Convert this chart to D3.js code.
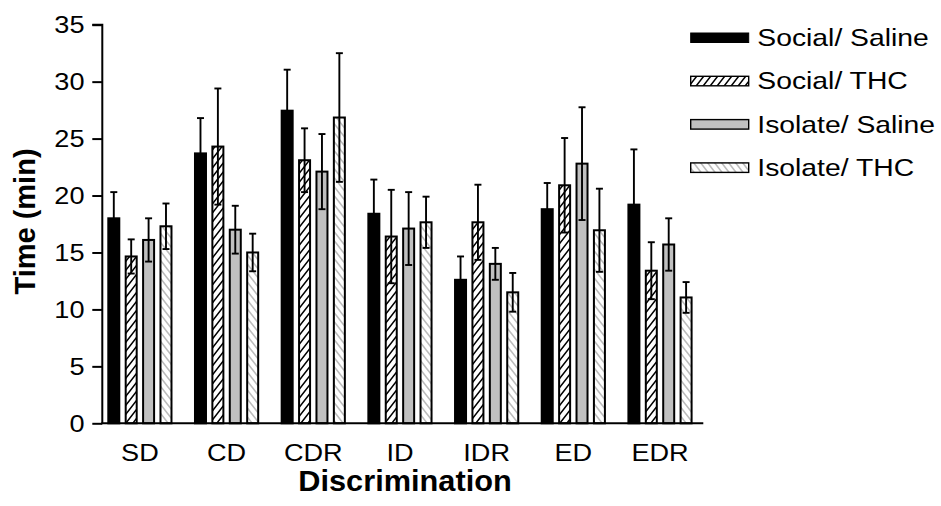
<!DOCTYPE html>
<html>
<head>
<meta charset="utf-8">
<script src="https://cdn.jsdelivr.net/npm/d3@7"></script>
<style>
  html, body { margin: 0; padding: 0; background: #fff; }
  svg { display: block; font-family: "Liberation Sans", Arial, sans-serif; }
</style>
</head>
<body>
<svg id="chart" width="941" height="506"></svg>
<script>
const categories = ["SD", "CD", "CDR", "ID", "IDR", "ED", "EDR"];
const seriesNames = ["Social/ Saline", "Social/ THC", "Isolate/ Saline", "Isolate/ THC"];
const socialSaline = [18.0, 23.7, 27.45, 18.4, 12.6, 18.8, 19.2];
const socialSalineErr = [2.3, 3.1, 3.6, 3.0, 2.05, 2.3, 4.85];
const socialTHC = [14.65, 24.3, 23.1, 16.4, 17.65, 20.9, 13.4];
const socialTHCErr = [1.5, 5.1, 2.8, 4.1, 3.3, 4.15, 2.5];
const isolateSaline = [16.1, 17.0, 22.1, 17.1, 14.0, 22.8, 15.7];
const isolateSalineErr = [1.9, 2.1, 3.3, 3.2, 1.4, 4.95, 2.3];
const isolateTHC = [17.3, 15.0, 26.85, 17.65, 11.5, 16.95, 11.05];
const isolateTHCErr = [2.0, 1.65, 5.65, 2.25, 1.7, 3.65, 1.35];
const yTicks = [0, 5, 10, 15, 20, 25, 30, 35];

const values = [socialSaline, socialTHC, isolateSaline, isolateTHC];
const errors = [socialSalineErr, socialTHCErr, isolateSalineErr, isolateTHCErr];
const fills = ["#000", "url(#hatchBlack)", "#c0c0c0", "url(#hatchGrey)"];

const svg = d3.select("#chart");

// patterns
const W = 7, H = 9;
const defs = svg.append("defs");
const p1 = defs.append("pattern").attr("id", "hatchBlack").attr("patternUnits", "userSpaceOnUse")
  .attr("width", W).attr("height", H);
p1.append("rect").attr("width", W).attr("height", H).attr("fill", "#fff");
p1.append("path")
  .attr("d", `M${-W},${2*H}L${2*W},${-H}M${-2*W},${2*H}L${W},${-H}M0,${2*H}L${3*W},${-H}`)
  .attr("stroke", "#000").attr("stroke-width", 1.5);
const p2 = defs.append("pattern").attr("id", "hatchGrey").attr("patternUnits", "userSpaceOnUse")
  .attr("width", W).attr("height", H);
p2.append("rect").attr("width", W).attr("height", H).attr("fill", "#fff");
p2.append("path")
  .attr("d", `M${-W},${-H}L${2*W},${2*H}M0,${-H}L${3*W},${2*H}M${-2*W},${-H}L${W},${2*H}`)
  .attr("stroke", "#bcbcbc").attr("stroke-width", 1.6);

const y = d3.scaleLinear().domain([0, 35]).range([423.3, 24.7]);
const x0 = d3.scaleBand().domain(categories).range([107.3, 692.6]).paddingInner(0.248).paddingOuter(0);
const x1 = d3.scaleBand().domain(d3.range(4)).range([0, x0.bandwidth()]).paddingInner(0.253).paddingOuter(0);

function sText(g, x, yy, txt, size, sx, anchor, weight) {
  return g.append("text")
    .attr("transform", `translate(${x},${yy}) scale(${sx},1)`)
    .attr("font-size", size).attr("text-anchor", anchor || "start")
    .attr("font-weight", weight || "normal").attr("fill", "#000")
    .text(txt);
}

// bars
const gBars = svg.append("g");
categories.forEach((c, ci) => {
  for (let s = 0; s < 4; s++) {
    const v = values[s][ci];
    const bx = x0(c) + x1(s);
    const bw = x1.bandwidth();
    gBars.append("rect")
      .attr("x", bx + 1).attr("y", y(v))
      .attr("width", bw - 2).attr("height", y(0) - y(v))
      .attr("fill", fills[s]).attr("stroke", "#000").attr("stroke-width", 2);
  }
});
// error bars
const gErr = svg.append("g").attr("stroke", "#000").attr("stroke-width", 1.9);
categories.forEach((c, ci) => {
  for (let s = 0; s < 4; s++) {
    const v = values[s][ci], e = errors[s][ci];
    const cx = x0(c) + x1(s) + x1.bandwidth() / 2;
    gErr.append("line").attr("x1", cx).attr("x2", cx).attr("y1", y(v + e)).attr("y2", y(v - e));
    gErr.append("line").attr("x1", cx - 3.5).attr("x2", cx + 3.5).attr("y1", y(v + e)).attr("y2", y(v + e));
    gErr.append("line").attr("x1", cx - 3.5).attr("x2", cx + 3.5).attr("y1", y(v - e)).attr("y2", y(v - e));
  }
});

// y axis
const yAxis = d3.axisLeft(y).tickValues(yTicks).tickSize(10).tickFormat("");
const gy = svg.append("g").attr("transform", "translate(102.3,0)").call(yAxis);
gy.select(".domain").attr("stroke", "#000").attr("stroke-width", 2).attr("d", `M-10,${y(35)}H0V${y(0)}`);
gy.selectAll(".tick line").attr("stroke", "#000").attr("stroke-width", 2);
yTicks.forEach(t => {
  sText(svg, 84.5, y(t) + 8.6, String(t), 24, 1.13, "end");
});

// x axis line
const xAxis = d3.axisBottom(x0).tickSize(0).tickFormat("");
const gx = svg.append("g").attr("transform", `translate(0,${y(0)})`).call(xAxis);
gx.select(".domain").attr("stroke", "#000").attr("stroke-width", 2).attr("d", `M101.3,0H703.3`);
categories.forEach(c => {
  sText(svg, x0(c) + x0.bandwidth() / 2, 460.7, c, 24, 1.13, "middle");
});

// titles
sText(svg, 405, 490.7, "Discrimination", 29, 1.06, "middle", "bold");
svg.append("text").attr("transform", "translate(35,221.5) rotate(-90)")
  .attr("text-anchor", "middle").attr("font-size", 29).attr("font-weight", "bold").text("Time (min)");

// legend
const legY = [37.5, 80.8, 124.1, 167.4];
seriesNames.forEach((n, i) => {
  svg.append("rect").attr("x", 690.7).attr("y", legY[i] - 4.5).attr("width", 58).attr("height", 9.5)
    .attr("fill", fills[i]).attr("stroke", "#000").attr("stroke-width", i === 0 ? 1 : 1.4);
  sText(svg, 757.3, legY[i] + 8.5, n, 24, 1.18, "start");
});
</script>
</body>
</html>
